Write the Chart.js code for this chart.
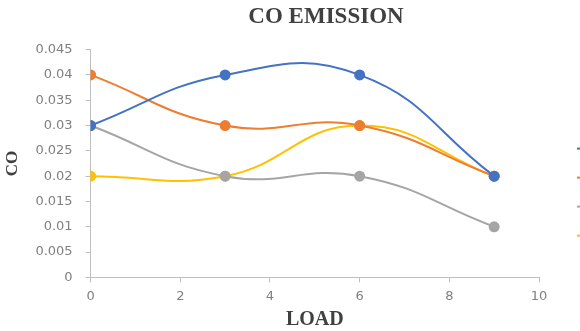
<!DOCTYPE html>
<html>
<head>
<meta charset="utf-8">
<script src="https://cdn.jsdelivr.net/npm/chart.js@4.4.1/dist/chart.umd.min.js"></script>
<style>
  html, body { margin: 0; padding: 0; background: #fff; overflow: hidden; }
  #wrap { width: 650px; height: 331px; }
</style>
</head>
<body>
<div id="wrap"><canvas id="chart"></canvas></div>
<script>
// load values on the x axis
const loads = [0, 3, 6, 9];

// CO values per series
const seriesA = [0.03, 0.04, 0.04, 0.02];
const seriesB = [0.04, 0.03, 0.03, 0.02];
const seriesC = [0.03, 0.02, 0.02, 0.01];
const seriesD = [0.02, 0.02, 0.03, 0.02];

const seriesNames = ['Series1', 'Series2', 'Series3', 'Series4'];
const seriesColors = ['#4472C4', '#ED7D31', '#A5A5A5', '#FFC000'];
const seriesValues = [seriesA, seriesB, seriesC, seriesD];

const tickColor = '#808080';
const axisColor = '#bfbfbf';
const tickFont = { family: 'DejaVu Sans', size: 13 };

const datasets = seriesValues.map((vals, i) => ({
    label: seriesNames[i],
    data: loads.map((x, j) => ({ x: x, y: vals[j] })),
    borderColor: seriesColors[i],
    backgroundColor: seriesColors[i],
    borderWidth: 2,
    pointRadius: 4.5,
    pointHoverRadius: 4.5,
    tension: 0.45,
    fill: false
}));

// legend markers to the right (labels fall outside the visible window)
const sideLegend = {
    id: 'sideLegend',
    afterDraw(chart) {
        const ctx = chart.ctx;
        const area = chart.chartArea;
        const x0 = area.right + 38;
        const y0 = area.top + 99;
        chart.data.datasets.forEach((ds, i) => {
            const y = y0 + i * 29;
            ctx.save();
            ctx.strokeStyle = ds.borderColor;
            ctx.lineWidth = 2;
            ctx.beginPath();
            ctx.moveTo(x0, y);
            ctx.lineTo(x0 + 20, y);
            ctx.stroke();
            ctx.fillStyle = ds.borderColor;
            ctx.beginPath();
            ctx.arc(x0 + 10, y, 3, 0, Math.PI * 2);
            ctx.fill();
            ctx.fillStyle = '#595959';
            ctx.font = '12px DejaVu Sans';
            ctx.textBaseline = 'middle';
            ctx.fillText(ds.label, x0 + 26, y);
            ctx.restore();
        });
    }
};

new Chart(document.getElementById('chart'), {
    type: 'line',
    data: { datasets: datasets },
    options: {
        responsive: true,
        maintainAspectRatio: false,
        animation: false,
        layout: { padding: { left: 2, right: 0, top: 0, bottom: 0 } },
        plugins: {
            legend: { display: false },
            tooltip: { enabled: false },
            title: {
                display: true,
                text: 'CO EMISSION',
                color: '#404040',
                font: { family: 'Liberation Serif', size: 23, weight: 'bold' },
                padding: { top: 3, bottom: 19 }
            }
        },
        scales: {
            x: {
                type: 'linear',
                min: 0,
                max: 10,
                ticks: { stepSize: 2, color: tickColor, font: tickFont, padding: 6 },
                grid: { drawOnChartArea: false, drawTicks: true, tickLength: 5, color: axisColor },
                border: { color: axisColor, width: 1 },
                title: {
                    display: true, text: 'LOAD', color: '#404040',
                    font: { family: 'Liberation Serif', size: 20, weight: 'bold', lineHeight: 1 },
                    padding: { top: 0, bottom: 1 }
                },
                // leave room on the right for the legend column
                afterFit(scale) { scale.paddingRight = 111; }
            },
            y: {
                min: 0,
                max: 0.045,
                ticks: {
                    stepSize: 0.005,
                    color: tickColor,
                    font: tickFont,
                    padding: 13,
                    callback: v => String(Number(v.toFixed(3)))
                },
                grid: { drawOnChartArea: false, drawTicks: true, tickLength: 5, color: axisColor },
                border: { color: axisColor, width: 1 },
                title: {
                    display: true, text: 'CO', color: '#404040',
                    font: { family: 'Liberation Serif', size: 17, weight: 'bold' },
                    padding: { top: 0, bottom: 0 }
                }
            }
        }
    },
    plugins: [sideLegend]
});
</script>
</body>
</html>
